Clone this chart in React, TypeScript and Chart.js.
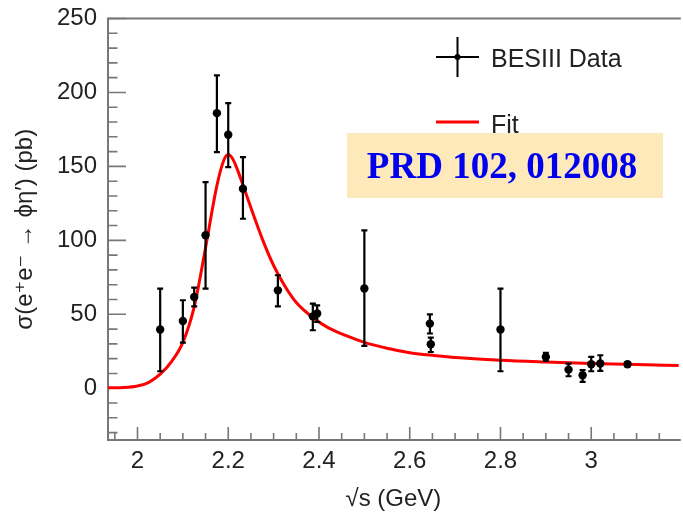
import React, { useEffect, useRef } from 'react';
import { Chart, registerables } from 'chart.js';

Chart.register(...registerables);

// ---- Data ----
const energies = [2.05, 2.1, 2.125, 2.15, 2.175, 2.2, 2.2324, 2.3094, 2.3864, 2.396, 2.5, 2.6444, 2.6464, 2.8, 2.9, 2.95, 2.981, 3.0, 3.02, 3.08];
const sigma = [39.7, 45.5, 61.7, 103.4, 186, 171.4, 134.9, 66.2, 48.6, 50.5, 67.4, 43.7, 29.7, 39.7, 21.2, 12.6, 8.8, 16.2, 16.7, 16.2];
const errUp = [27.7, 14, 6.3, 36, 25.5, 21.4, 21.4, 10.2, 8.6, 5.5, 39.4, 6.3, 4.5, 27.7, 2.7, 4.1, 3.4, 5, 5.6, 1.5];
const errDown = [28.2, 14.6, 6.3, 36, 26.3, 21.9, 20.3, 10.8, 9.4, 5.7, 38.8, 6.7, 5.2, 28.2, 2.8, 4.5, 4.5, 4.7, 5, 1.5];

const fitX = [1.935, 1.97, 2.0, 2.025, 2.05, 2.075, 2.1, 2.125, 2.15, 2.175, 2.19, 2.2, 2.21, 2.22, 2.234, 2.25, 2.275, 2.3, 2.325, 2.35, 2.39, 2.42, 2.46, 2.5, 2.55, 2.6, 2.65, 2.7, 2.8, 2.9, 3.0, 3.1, 3.193];
const fitY = [0.3, 0.5, 1.5, 4, 9.5, 18, 31, 55, 95, 137, 154, 158, 155, 148, 136, 122, 101, 83, 69, 58, 47, 41, 35.5, 31, 27, 24, 22.3, 20.8, 19, 17.8, 16.8, 16, 15.4];

const xTickValues = [2, 2.2, 2.4, 2.6, 2.8, 3];
const xTickLabels = ['2', '2.2', '2.4', '2.6', '2.8', '3'];
const yTickValues = [0, 50, 100, 150, 200, 250];
const yTickLabels = ['0', '50', '100', '150', '200', '250'];

const seriesLabels = ['BESIII Data', 'Fit'];
const referenceText = 'PRD 102, 012008';
const xTitle = '√s (GeV)';
const yTitle = 'σ(e⁺e⁻ → ϕη′) (pb)';

const SANS = "'Liberation Sans', Arial, Helvetica, 'DejaVu Sans', sans-serif";
const SERIF = "'Liberation Serif', 'Times New Roman', serif";
const AXIS_COLOR = '#777777';
const TEXT_COLOR = '#222222';

// frame + inward ROOT-style ticks
const frameTicksPlugin = {
  id: 'frameTicks',
  beforeDatasetsDraw(chart: any) {
    const { ctx, chartArea } = chart;
    const xs = chart.scales.x;
    const ys = chart.scales.y;
    const { left, top, bottom, right } = chartArea;
    ctx.save();
    ctx.strokeStyle = AXIS_COLOR;
    ctx.lineWidth = 2;
    ctx.beginPath();
    ctx.moveTo(right + 2, top);
    ctx.lineTo(left, top);
    ctx.lineTo(left, bottom);
    ctx.lineTo(right + 2, bottom);
    ctx.stroke();
    ctx.lineWidth = 1.6;
    ctx.beginPath();
    for (let i = -3; i <= 25; i++) {
      const v = i * 10;
      const py = ys.getPixelForValue(v);
      const len = v % 50 === 0 ? 18 : 9.5;
      ctx.moveTo(left, py);
      ctx.lineTo(left + len, py);
    }
    for (let i = 39; i <= 64; i++) {
      const v = i * 0.05;
      const px = xs.getPixelForValue(v);
      if (px > right) continue;
      const len = i % 4 === 0 ? 13 : 7;
      ctx.moveTo(px, bottom);
      ctx.lineTo(px, bottom - len);
    }
    ctx.stroke();
    ctx.restore();
  },
};

// vertical error bars for the data series
const errorBarPlugin = {
  id: 'errorBars',
  beforeDatasetDraw(chart: any, args: any) {
    if (args.index !== 0) return;
    const { ctx } = chart;
    const xs = chart.scales.x;
    const ys = chart.scales.y;
    ctx.save();
    ctx.strokeStyle = '#000000';
    ctx.lineWidth = 2.2;
    ctx.beginPath();
    for (let i = 0; i < energies.length; i++) {
      const px = xs.getPixelForValue(energies[i]);
      const pTop = ys.getPixelForValue(sigma[i] + errUp[i]);
      const pBot = ys.getPixelForValue(sigma[i] - errDown[i]);
      ctx.moveTo(px, pTop);
      ctx.lineTo(px, pBot);
      ctx.moveTo(px - 3, pTop);
      ctx.lineTo(px + 3, pTop);
      ctx.moveTo(px - 3, pBot);
      ctx.lineTo(px + 3, pBot);
    }
    ctx.stroke();
    ctx.restore();
  },
};

// legend + reference box
const legendPlugin = {
  id: 'rootLegend',
  afterDraw(chart: any) {
    const { ctx } = chart;
    const ds = chart.data.datasets;
    ctx.save();
    // data marker
    ctx.strokeStyle = '#000000';
    ctx.lineWidth = 2;
    ctx.beginPath();
    ctx.moveTo(436, 57);
    ctx.lineTo(479, 57);
    ctx.moveTo(457.5, 37);
    ctx.lineTo(457.5, 77);
    ctx.stroke();
    ctx.fillStyle = '#000000';
    ctx.beginPath();
    ctx.arc(457.5, 57, 3, 0, Math.PI * 2);
    ctx.fill();
    ctx.font = `25px ${SANS}`;
    ctx.fillStyle = TEXT_COLOR;
    ctx.textAlign = 'left';
    ctx.textBaseline = 'alphabetic';
    ctx.fillText(ds[0].label, 491, 66.5);
    // fit marker
    ctx.strokeStyle = '#ff0000';
    ctx.lineWidth = 3;
    ctx.beginPath();
    ctx.moveTo(436, 122);
    ctx.lineTo(479, 122);
    ctx.stroke();
    ctx.fillText(ds[1].label, 491, 133);
    // reference box
    ctx.fillStyle = '#fde9b9';
    ctx.fillRect(347, 133, 316, 65);
    ctx.fillStyle = '#0000ee';
    ctx.font = `bold 37px ${SERIF}`;
    ctx.textAlign = 'center';
    ctx.fillText(referenceText, 502, 178);
    ctx.restore();
  },
};

export default function App() {
  const canvasRef = useRef<HTMLCanvasElement | null>(null);

  useEffect(() => {
    if (!canvasRef.current) return;
    const chart = new Chart(canvasRef.current, {
      type: 'scatter',
      data: {
        datasets: [
          {
            label: seriesLabels[0],
            data: energies.map((x, i) => ({ x, y: sigma[i] })),
            pointRadius: 4.2,
            pointBackgroundColor: '#000000',
            pointBorderColor: '#000000',
            pointBorderWidth: 0,
            showLine: false,
          } as any,
          {
            label: seriesLabels[1],
            type: 'line',
            data: fitX.map((x, i) => ({ x, y: fitY[i] })),
            borderColor: '#ff0000',
            borderWidth: 3,
            pointRadius: 0,
            showLine: true,
            fill: false,
            cubicInterpolationMode: 'monotone',
          } as any,
        ],
      },
      options: {
        animation: false,
        responsive: false,
        layout: { padding: { top: 18.5, left: 0, right: 0, bottom: 0 } },
        plugins: { legend: { display: false }, tooltip: { enabled: false } },
        scales: {
          x: {
            type: 'linear',
            min: 1.935,
            max: 3.193,
            afterFit: (s: any) => { s.height = 77; s.paddingLeft = 0; s.paddingRight = 0; },
            afterBuildTicks: (s: any) => { s.ticks = xTickValues.map((v) => ({ value: v })); },
            grid: { display: false, drawTicks: false },
            border: { display: false },
            ticks: {
              autoSkip: false,
              maxRotation: 0,
              minRotation: 0,
              padding: 7,
              color: TEXT_COLOR,
              font: { family: SANS, size: 24 },
              callback: (_v: any, i: number) => xTickLabels[i],
            },
            title: {
              display: true,
              text: xTitle,
              color: TEXT_COLOR,
              font: { family: SANS, size: 24 },
              padding: { top: 0, bottom: 3 },
            },
          },
          y: {
            type: 'linear',
            min: -35,
            max: 250,
            afterFit: (s: any) => { s.width = 108; s.paddingTop = 0; s.paddingBottom = 0; },
            afterBuildTicks: (s: any) => { s.ticks = yTickValues.map((v) => ({ value: v })); },
            grid: { display: false, drawTicks: false },
            border: { display: false },
            ticks: {
              autoSkip: false,
              padding: 11,
              color: TEXT_COLOR,
              font: { family: SANS, size: 24 },
              callback: (_v: any, i: number) => yTickLabels[i],
            },
            title: {
              display: true,
              text: yTitle,
              color: TEXT_COLOR,
              font: { family: SANS, size: 24 },
              padding: { top: 10.6, bottom: 0 },
            },
          },
        },
      },
      plugins: [frameTicksPlugin, errorBarPlugin, legendPlugin],
    } as any);
    return () => chart.destroy();
  }, []);

  return (
    <div style={{ position: 'fixed', left: 0, top: 0, width: 683, height: 517, background: '#ffffff' }}>
      <canvas ref={canvasRef} width={683} height={517} style={{ display: 'block' }} />
    </div>
  );
}
